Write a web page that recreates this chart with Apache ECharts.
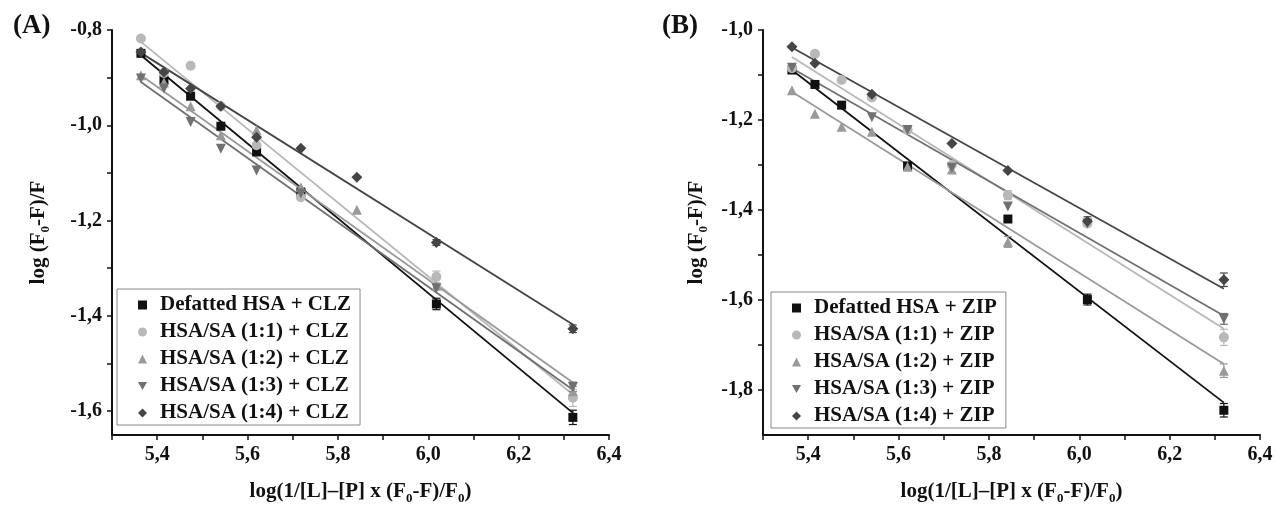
<!DOCTYPE html>
<html>
<head>
<meta charset="utf-8">
<script src="https://cdn.jsdelivr.net/npm/echarts@6/dist/echarts.min.js"></script>
<style>
html,body{margin:0;padding:0;background:#fff;}
#chart{width:1277px;height:505px;}
</style>
</head>
<body>
<div id="chart"></div>
<script>
// ---------- data ----------
const xVals = [5.364, 5.415, 5.474, 5.541, 5.62, 5.718, 5.842, 6.018, 6.32];
const fitX = [5.364, 6.32];

const xTickVals = [5.3, 5.4, 5.5, 5.6, 5.7, 5.8, 5.9, 6.0, 6.1, 6.2, 6.3, 6.4];
const xLabelVals = [5.4, 5.6, 5.8, 6.0, 6.2, 6.4];
const yTickValsA = [-0.8, -0.9, -1.0, -1.1, -1.2, -1.3, -1.4, -1.5, -1.6];
const yLabelValsA = [-0.8, -1.0, -1.2, -1.4, -1.6];
const yTickValsB = [-1.0, -1.1, -1.2, -1.3, -1.4, -1.5, -1.6, -1.7, -1.8];
const yLabelValsB = [-1.0, -1.2, -1.4, -1.6, -1.8];

const namesA = ['Defatted HSA + CLZ', 'HSA/SA (1:1) + CLZ', 'HSA/SA (1:2) + CLZ', 'HSA/SA (1:3) + CLZ', 'HSA/SA (1:4) + CLZ'];
const namesB = ['Defatted HSA + ZIP', 'HSA/SA (1:1) + ZIP', 'HSA/SA (1:2) + ZIP', 'HSA/SA (1:3) + ZIP', 'HSA/SA (1:4) + ZIP'];

// Panel A (CLZ)
const clzDefatted = [-0.849, -0.905, -0.939, -1.002, -1.056, -1.140, null, -1.375, -1.613];
const clz11 = [-0.818, -0.890, -0.875, -0.960, -1.042, -1.151, null, -1.318, -1.572];
const clz12 = [-0.895, -0.910, -0.960, -1.021, -1.010, -1.130, -1.177, -1.337, -1.558];
const clz13 = [-0.902, -0.923, -0.993, -1.049, -1.095, -1.143, null, -1.342, -1.549];
const clz14 = [-0.846, -0.888, -0.923, -0.960, -1.025, -1.048, -1.109, -1.246, -1.427];
const clzErr = [
  [0, 0, 0, 0, 0, 0, 0, 0.012, 0.015],
  [0, 0, 0, 0, 0, 0, 0, 0.012, 0.018],
  [0, 0, 0, 0, 0, 0, 0, 0, 0.010],
  [0, 0, 0, 0, 0, 0, 0, 0, 0.010],
  [0, 0, 0, 0, 0, 0, 0, 0.006, 0.008]
];
const clzFitDefatted = [-0.853, -1.6035];
const clzFit11 = [-0.825, -1.565];
const clzFit12 = [-0.895, -1.540];
const clzFit13 = [-0.909, -1.555];
const clzFit14 = [-0.848, -1.418];

// Panel B (ZIP)
const zipDefatted = [-1.089, -1.121, -1.167, null, -1.302, null, -1.420, -1.599, -1.845];
const zip11 = [-1.085, -1.053, -1.111, -1.150, -1.222, -1.300, -1.367, -1.430, -1.683];
const zip12 = [-1.134, -1.186, -1.215, -1.226, -1.304, -1.310, -1.471, null, -1.757];
const zip13 = [-1.084, null, null, -1.194, -1.222, -1.306, -1.392, -1.430, -1.642];
const zip14 = [-1.037, -1.074, null, -1.143, null, -1.252, -1.312, -1.425, -1.555];
const zipErr = [
  [0, 0, 0, 0, 0, 0, 0, 0.012, 0.015],
  [0, 0, 0, 0, 0, 0, 0.010, 0, 0.018],
  [0, 0, 0, 0, 0, 0, 0.012, 0, 0.015],
  [0, 0, 0, 0, 0, 0, 0, 0, 0.012],
  [0, 0, 0, 0, 0, 0, 0, 0.010, 0.015]
];
const zipFitDefatted = [-1.089, -1.828];
const zipFit11 = [-1.060, -1.664];
const zipFit12 = [-1.137, -1.742];
const zipFit13 = [-1.085, -1.635];
const zipFit14 = [-1.039, -1.575];

// ---------- styles ----------
const colors = ['#111111', '#b8b8b8', '#9a9a9a', '#707070', '#454545'];
const symbols = ['rect', 'circle', 'triangle', 'triangle', 'diamond'];
const legendIcons = ['rect', 'circle', 'triangle', 'path://M0,0L10,0L5,9Z', 'diamond'];
const symRot = [0, 0, 0, 180, 0];
const symSize = [9, 10, 10, 10, 11];
const serif = 'Liberation Serif';

const valsA = [clzDefatted, clz11, clz12, clz13, clz14];
const valsB = [zipDefatted, zip11, zip12, zip13, zip14];
const fitsA = [clzFitDefatted, clzFit11, clzFit12, clzFit13, clzFit14];
const fitsB = [zipFitDefatted, zipFit11, zipFit12, zipFit13, zipFit14];

const fmt = v => (Math.round(v * 10) / 10).toFixed(1).replace('.', ',');

const richName = {
  a: { fontFamily: serif, fontWeight: 'bold', fontSize: 21, color: '#111' },
  s: { fontFamily: serif, fontWeight: 'bold', fontSize: 13, color: '#111', padding: [14, 0, 0, 0] }
};

function xAxisCfg(gi) {
  return {
    type: 'value', gridIndex: gi, min: 5.3, max: 6.4,
    name: '{a|log(1/[L]–[P] x (F}{s|0}{a|-F)/F}{s|0}{a|)}',
    nameLocation: 'middle', nameGap: 43, nameMoveOverlap: false,
    nameTextStyle: { rich: richName },
    axisLine: { show: true, onZero: false, lineStyle: { color: '#111', width: 2 } },
    axisTick: { show: true, inside: false, length: 5, lineStyle: { color: '#111', width: 1.5 }, customValues: xTickVals },
    axisLabel: { customValues: xLabelVals, formatter: fmt, fontFamily: serif, fontWeight: 'bold', fontSize: 20, color: '#111', margin: 10 },
    splitLine: { show: false }
  };
}
function yAxisCfg(gi, min, max, ticks, labels, gap) {
  return {
    type: 'value', gridIndex: gi, min: min, max: max,
    name: '{a|log (F}{s|0}{a|-F)/F}',
    nameLocation: 'middle', nameRotate: 90, nameGap: gap, nameMoveOverlap: false,
    nameTextStyle: { rich: richName },
    axisLine: { show: true, onZero: false, lineStyle: { color: '#111', width: 2 } },
    axisTick: { show: true, inside: false, length: 5, lineStyle: { color: '#111', width: 1.5 }, customValues: ticks },
    axisLabel: { customValues: labels, formatter: fmt, fontFamily: serif, fontWeight: 'bold', fontSize: 20, color: '#111', margin: 10 },
    splitLine: { show: false }
  };
}

const series = [];
function addPanel(gi, names, vals, fits, errs) {
  for (let i = 0; i < 5; i++) {
    series.push({
      type: 'line', name: 'fit' + gi + '_' + i, xAxisIndex: gi, yAxisIndex: gi,
      data: [[fitX[0], fits[i][0]], [fitX[1], fits[i][1]]],
      showSymbol: false, symbol: 'none', silent: true,
      lineStyle: { color: colors[i], width: 1.8 }, z: 2
    });
  }
  for (let i = 0; i < 5; i++) {
    const d = [];
    xVals.forEach((x, k) => { if (vals[i][k] !== null && errs[i][k] > 0) d.push([x, vals[i][k], errs[i][k]]); });
    series.push({
      type: 'custom', name: 'err' + gi + '_' + i, xAxisIndex: gi, yAxisIndex: gi, silent: true, z: 3,
      data: d,
      renderItem: function (params, api) {
        const x = api.value(0), y = api.value(1), e = api.value(2);
        const top = api.coord([x, y + e]);
        const bot = api.coord([x, y - e]);
        const st = { stroke: colors[i], lineWidth: 1.2 };
        return {
          type: 'group', children: [
            { type: 'line', shape: { x1: top[0], y1: top[1], x2: bot[0], y2: bot[1] }, style: st },
            { type: 'line', shape: { x1: top[0] - 4, y1: top[1], x2: top[0] + 4, y2: top[1] }, style: st },
            { type: 'line', shape: { x1: bot[0] - 4, y1: bot[1], x2: bot[0] + 4, y2: bot[1] }, style: st }
          ]
        };
      }
    });
  }
  for (let i = 0; i < 5; i++) {
    const d = [];
    xVals.forEach((x, k) => { if (vals[i][k] !== null) d.push([x, vals[i][k]]); });
    series.push({
      type: 'scatter', name: names[i], xAxisIndex: gi, yAxisIndex: gi,
      data: d, symbol: symbols[i], symbolSize: symSize[i], symbolRotate: symRot[i],
      itemStyle: { color: colors[i], opacity: 1 }, z: 4
    });
  }
}
addPanel(0, namesA, valsA, fitsA, clzErr);
addPanel(1, namesB, valsB, fitsB, zipErr);

function legendCfg(names, left, top) {
  return {
    data: names.map((n, i) => ({ name: n, icon: legendIcons[i], itemStyle: { color: colors[i] } })),
    orient: 'vertical', left: left, top: top,
    itemWidth: 9, itemHeight: 9, itemGap: 5,
    padding: [5, 9, 1, 21],
    backgroundColor: '#fff', borderColor: '#888', borderWidth: 1, borderRadius: 0,
    selectedMode: false,
    textStyle: { fontFamily: serif, fontWeight: 'bold', fontSize: 21, lineHeight: 22, color: '#111', padding: [0, 0, 0, 8] }
  };
}

const option = {
  animation: false,
  backgroundColor: '#fff',
  title: [
    { text: '(A)', left: 8, top: 8, textStyle: { fontFamily: serif, fontWeight: 'bold', fontSize: 27, color: '#111' } },
    { text: '(B)', left: 657, top: 8, textStyle: { fontFamily: serif, fontWeight: 'bold', fontSize: 27, color: '#111' } }
  ],
  grid: [
    { left: 112, top: 30, width: 497, height: 405, outerBoundsMode: 'none', containLabel: false },
    { left: 763, top: 30, width: 497, height: 405, outerBoundsMode: 'none', containLabel: false }
  ],
  xAxis: [xAxisCfg(0), xAxisCfg(1)],
  yAxis: [
    yAxisCfg(0, -1.65, -0.8, yTickValsA, yLabelValsA, 60),
    yAxisCfg(1, -1.9, -1.0, yTickValsB, yLabelValsB, 53)
  ],
  legend: [legendCfg(namesA, 117, 289), legendCfg(namesB, 771, 292)],
  series: series
};

const chart = echarts.init(document.getElementById('chart'), null, { renderer: 'canvas' });
chart.setOption(option);
</script>
</body>
</html>
